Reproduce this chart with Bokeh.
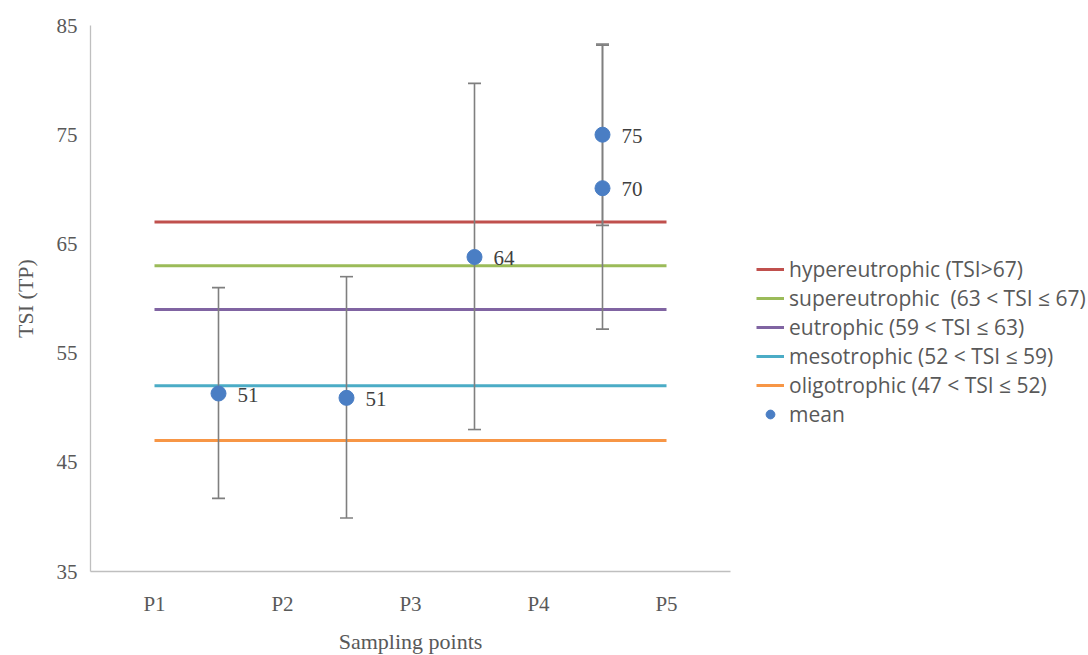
from bokeh.plotting import figure
from bokeh.models import ColumnDataSource, Legend, LegendItem, FixedTicker, Range1d
from bokeh.transform import dodge
from bokeh.core.properties import value
from bokeh.embed import file_html
from bokeh.resources import INLINE

# ---- data ----
categories = ["P1", "P2", "P3", "P4", "P5"]
mean_cat = ["P1", "P2", "P3", "P4", "P4"]
mean_vals = [51.3, 50.9, 63.8, 75.0, 70.1]
err_upper = [61.0, 62.0, 79.7, 83.3, 83.2]
err_lower = [41.7, 39.9, 48.0, 66.7, 57.2]
mean_labels = ["51", "51", "64", "75", "70"]

level_names = [
    "hypereutrophic (TSI>67)",
    "supereutrophic  (63 < TSI \u2264 67)",
    "eutrophic (59 < TSI \u2264 63)",
    "mesotrophic (52 < TSI \u2264 59)",
    "oligotrophic (47 < TSI \u2264 52)",
]
level_vals = [67, 63, 59, 52, 47]
level_colors = ["#C0504D", "#9BBB59", "#8064A2", "#4BACC6", "#F79646"]
y_ticks = [35, 45, 55, 65, 75, 85]

SERIF = "Liberation Serif"
SANS = "Open Sans"

p = figure(
    x_range=categories,
    y_range=Range1d(35, 85),
    frame_width=640, frame_height=546,
    min_border_left=90, min_border_top=25, min_border_bottom=68, min_border_right=342,
    output_backend="svg", toolbar_location=None,
)
p.outline_line_color = None
p.xgrid.grid_line_color = None
p.ygrid.grid_line_color = None
p.background_fill_color = "white"
p.border_fill_color = "white"

for ax in (p.xaxis[0], p.yaxis[0]):
    ax.axis_line_color = "#BFBFBF"
    ax.axis_line_width = 1.3
    ax.major_tick_line_color = None
    ax.minor_tick_line_color = None
    ax.major_tick_in = 0
    ax.major_tick_out = 0
    ax.major_label_text_font = SERIF
    ax.major_label_text_font_size = "21px"
    ax.major_label_text_color = "#595959"
    ax.axis_label_text_font = SERIF
    ax.axis_label_text_font_size = "22px"
    ax.axis_label_text_color = "#595959"
    ax.axis_label_text_font_style = "normal"

p.yaxis.ticker = FixedTicker(ticks=y_ticks)
p.yaxis.major_label_standoff = 13
p.yaxis.axis_label = "TSI (TP)"
p.yaxis.axis_label_standoff = 16
p.xaxis.major_label_standoff = 20
p.xaxis.axis_label = "Sampling points"
p.xaxis.axis_label_standoff = 10

# threshold lines
items = []
for name, v, c in zip(level_names, level_vals, level_colors):
    src = ColumnDataSource(dict(x=[categories[0], categories[-1]], y=[v, v]))
    r = p.line("x", "y", source=src, line_color=c, line_width=3)
    items.append(LegendItem(label=name, renderers=[r]))

# error bars
src = ColumnDataSource(dict(cat=mean_cat, mean=mean_vals, up=err_upper, lo=err_lower, lab=mean_labels))
xd = dodge("cat", 0.5, range=p.x_range)
p.segment(x0=xd, y0="lo", x1=xd, y1="up", source=src, line_color="#7F7F7F", line_width=1.6)
p.scatter(x=xd, y="up", source=src, marker="dash", size=13, line_color="#7F7F7F", line_width=1.6)
p.scatter(x=xd, y="lo", source=src, marker="dash", size=13, line_color="#7F7F7F", line_width=1.6)

# means
rm = p.scatter(x=xd, y="mean", source=src, marker="circle", size=15,
               fill_color="#4A7EC4", line_color="#4A7EC4")
p.text(x=xd, y="mean", text="lab", source=src, x_offset=19, y_offset=1, text_align="left",
       text_baseline="middle", text_font=value(SERIF), text_font_size="21px",
       text_color="#404040")
items.append(LegendItem(label="mean", renderers=[rm], index=0))

legend = Legend(items=items, location=(26, 143))
legend.border_line_color = None
legend.background_fill_alpha = 0
legend.label_text_font = SANS
legend.label_text_font_size = "21px"
legend.label_text_color = "#595959"
legend.glyph_width = 28
legend.glyph_height = 22
legend.label_height = 22
legend.spacing = 1
legend.padding = 10
legend.margin = 0
legend.label_standoff = 5
p.add_layout(legend, "right")

open("out.html", "w").write(file_html(p, INLINE))
